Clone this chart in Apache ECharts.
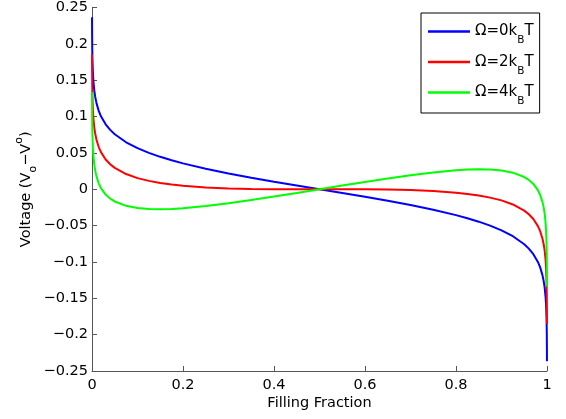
<!DOCTYPE html>
<html>
<head>
<meta charset="utf-8">
<script src="https://cdn.jsdelivr.net/npm/echarts@6/dist/echarts.min.js"></script>
<style>html,body{margin:0;padding:0;background:#fff}#c{width:566px;height:419px}</style>
</head>
<body>
<div id="c"></div>
<script>
var fillingFraction = [0.0001,0.0002,0.0005,0.001,0.002,0.003,0.005,0.007,0.01,0.015,0.02,0.03,0.04,0.05,0.075,0.1,0.125,0.15,0.175,0.2,0.25,0.3,0.35,0.4,0.45,0.5,
  0.55,0.6,0.65,0.7,0.75,0.8,0.825,0.85,0.875,0.9,0.925,0.95,0.96,0.97,0.98,0.985,0.99,0.993,0.995,0.997,0.998,0.999,0.9995,0.9998,0.9999];
var omega0 = [0.2367,0.2189,0.1953,0.1775,0.1597,0.1492,0.1360,0.1273,0.1181,0.1075,0.1000,0.0893,0.0817,0.0757,0.0646,0.0565,0.0500,0.0446,0.0399,0.0356,0.0282,0.0218,0.0159,0.0104,0.0052,0,
  -0.0052,-0.0104,-0.0159,-0.0218,-0.0282,-0.0356,-0.0399,-0.0446,-0.0500,-0.0565,-0.0646,-0.0757,-0.0817,-0.0893,-0.1000,-0.1075,-0.1181,-0.1273,-0.1360,-0.1492,-0.1597,-0.1775,-0.1953,-0.2189,-0.2367];
var omega2 = [0.1853,0.1675,0.1440,0.1262,0.1085,0.0981,0.0852,0.0767,0.0677,0.0577,0.0507,0.0410,0.0344,0.0294,0.0209,0.0153,0.0115,0.0086,0.0064,0.0048,0.0025,0.0012,0.0005,0.0001,0.0000,0,
  -0.0000,-0.0001,-0.0005,-0.0012,-0.0025,-0.0048,-0.0064,-0.0086,-0.0115,-0.0153,-0.0209,-0.0294,-0.0344,-0.0410,-0.0507,-0.0577,-0.0677,-0.0767,-0.0852,-0.0981,-0.1085,-0.1262,-0.1440,-0.1675,-0.1853];
var omega4 = [0.1339,0.1161,0.0926,0.0749,0.0573,0.0470,0.0343,0.0260,0.0174,0.0078,0.0013,-0.0073,-0.0129,-0.0168,-0.0228,-0.0258,-0.0271,-0.0274,-0.0270,-0.0261,-0.0232,-0.0193,-0.0149,-0.0101,-0.0051,0,
  0.0051,0.0101,0.0149,0.0193,0.0232,0.0261,0.0270,0.0274,0.0271,0.0258,0.0228,0.0168,0.0129,0.0073,-0.0013,-0.0078,-0.0174,-0.0260,-0.0343,-0.0470,-0.0573,-0.0749,-0.0926,-0.1161,-0.1339];
var seriesNames = ['Ω=0kBT','Ω=2kBT','Ω=4kBT'];
var legendLabels = ['Ω=0k{s|B}T','Ω=2k{s|B}T','Ω=4k{s|B}T'];
var seriesColors = ['#0000ff','#ff0000','#00ff00'];
var xTicks = [0,0.2,0.4,0.6,0.8,1];
var yTicks = [-0.25,-0.2,-0.15,-0.1,-0.05,0,0.05,0.1,0.15,0.2,0.25];

function pairs(ys){ return fillingFraction.map(function(x,i){return [x, ys[i]];}); }
var allData = [omega0, omega2, omega4];

var chart = echarts.init(document.getElementById('c'), null, {renderer:'canvas'});
var font = '"DejaVu Sans", Verdana, sans-serif';
var fs = 14.5;
chart.setOption({
  animation:false,
  backgroundColor:'#fff',
  grid:{left:92, right:19, top:6, bottom:48, containLabel:false},
  xAxis:{
    type:'value', min:0, max:1, interval:0.2,
    name:'Filling Fraction', nameLocation:'middle', nameGap:25, nameMoveOverlap:false,
    nameTextStyle:{color:'#000', fontSize:fs, fontFamily:font},
    axisLine:{show:true, onZero:false, lineStyle:{color:'#555', width:1}},
    axisTick:{show:true, inside:true, length:5, lineStyle:{color:'#555'}},
    axisLabel:{color:'#000', fontSize:fs, fontFamily:font, margin:7,
      formatter:function(v){ var r=+v.toFixed(2); return xTicks.indexOf(r)>=0 ? String(r) : ''; }},
    splitLine:{show:false}
  },
  yAxis:{
    type:'value', min:-0.25, max:0.25, interval:0.05,
    name:'Voltage (V{sub|o}−V{sup|o})', nameLocation:'middle', nameGap:58, nameRotate:90, nameMoveOverlap:false,
    nameTextStyle:{color:'#000', fontSize:fs, fontFamily:font,
      rich:{
        sub:{fontSize:11, fontFamily:font, color:'#000', verticalAlign:'bottom', padding:[0,0,-5,0]},
        sup:{fontSize:11, fontFamily:font, color:'#000', verticalAlign:'top', padding:[-5,0,0,0]}
      }},
    axisLine:{show:true, onZero:false, lineStyle:{color:'#555', width:1}},
    axisTick:{show:true, inside:true, length:5, lineStyle:{color:'#555'}},
    axisLabel:{color:'#000', fontSize:fs, fontFamily:font, margin:4,
      formatter:function(v){ var r=+v.toFixed(2); return yTicks.indexOf(r)<0?'':(r===0?'0':(r<0?'−'+String(-r):String(r))); }},
    splitLine:{show:false}
  },
  legend:{
    left:421, top:13, orient:'vertical',
    itemWidth:42, itemHeight:14, itemGap:8.5,
    padding:[11,6,6,7],
    borderColor:'#000', borderWidth:1, backgroundColor:'#fff',
    icon:'path://M0,6 L42,6 L42,8.5 L0,8.5 Z',
    data:seriesNames,
    formatter:function(name){ return legendLabels[seriesNames.indexOf(name)]; },
    textStyle:{color:'#000', fontSize:15, fontFamily:font,
      rich:{ s:{fontSize:10.5, fontFamily:font, color:'#000', verticalAlign:'bottom', padding:[0,0,-7,0]} }}
  },
  series: allData.map(function(d,i){
    return {name:seriesNames[i], type:'line', data:pairs(d), showSymbol:false, symbol:'none',
      lineStyle:{color:seriesColors[i], width:2}, itemStyle:{color:seriesColors[i]}, clip:true};
  })
});
</script>
</body>
</html>
